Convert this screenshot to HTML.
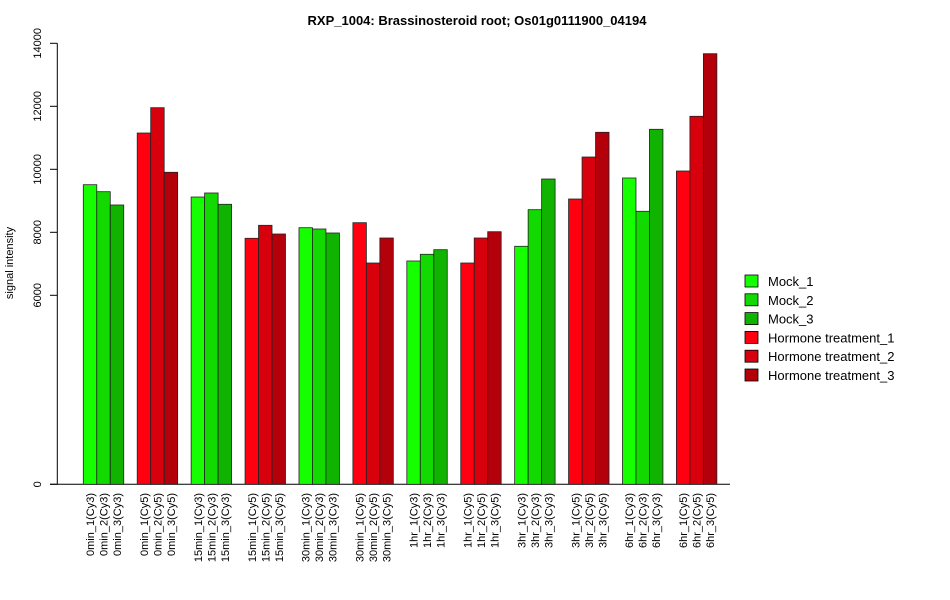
<!DOCTYPE html>
<html><head><meta charset="utf-8"><style>body{margin:0;background:#fff}svg{display:block;font-family:"Liberation Sans",Arial,sans-serif}</style></head>
<body>
<svg id="c" width="950" height="600"></svg>
<script>
const categories=["0min_1(Cy3)","0min_2(Cy3)","0min_3(Cy3)","0min_1(Cy5)","0min_2(Cy5)","0min_3(Cy5)","15min_1(Cy3)","15min_2(Cy3)","15min_3(Cy3)","15min_1(Cy5)","15min_2(Cy5)","15min_3(Cy5)","30min_1(Cy3)","30min_2(Cy3)","30min_3(Cy3)","30min_1(Cy5)","30min_2(Cy5)","30min_3(Cy5)","1hr_1(Cy3)","1hr_2(Cy3)","1hr_3(Cy3)","1hr_1(Cy5)","1hr_2(Cy5)","1hr_3(Cy5)","3hr_1(Cy3)","3hr_2(Cy3)","3hr_3(Cy3)","3hr_1(Cy5)","3hr_2(Cy5)","3hr_3(Cy5)","6hr_1(Cy3)","6hr_2(Cy3)","6hr_3(Cy3)","6hr_1(Cy5)","6hr_2(Cy5)","6hr_3(Cy5)"];
const values=[9511,9289,8867,11152,11956,9905,9120,9248,8889,7810,8222,7946,8146,8105,7978,8305,7025,7819,7089,7302,7448,7025,7819,8019,7556,8718,9692,9057,10390,11175,9724,8667,11270,9946,11683,13670];
const yTicks=[0,6000,8000,10000,12000,14000];
const legendLabels=["Mock_1","Mock_2","Mock_3","Hormone treatment_1","Hormone treatment_2","Hormone treatment_3"];
const colors=["#15ff00","#12d900","#0fb300","#ff0010","#d9000e","#b3000b"];

const svg=document.getElementById('c');
const NS='http://www.w3.org/2000/svg';
function mk(t,a,p){const e=document.createElementNS(NS,t);for(const k in a)e.setAttribute(k,a[k]);(p||svg).appendChild(e);return e;}
const y0=484.3,yMax=14000,yPix=441;
function Y(v){return y0-v/yMax*yPix;}
const bw=13.48,x0=83.3;
function X(i){const g=Math.floor(i/3);return x0+(i+g)*bw;}

const title=mk('text',{x:477,y:25,'text-anchor':'middle','font-size':13,'font-weight':'bold'});
title.textContent="RXP_1004: Brassinosteroid root; Os01g0111900_04194";



const yl=mk('text',{transform:'translate(13,263) rotate(-90)','text-anchor':'middle','font-size':11});
yl.textContent="signal intensity";



const ax=mk('line',{x1:57.3,x2:57.3,y1:Y(0),y2:Y(14000),stroke:'#000'});


yTicks.forEach(v=>{
  mk('line',{x1:50,x2:57.3,y1:Y(v),y2:Y(v),stroke:'#000'});
  const t=mk('text',{transform:`translate(41,${Y(v)}) rotate(-90)`,'text-anchor':'middle','font-size':11});
  t.textContent=v;
  
  
});
const xa=mk('line',{x1:50,x2:730,y1:Y(0),y2:Y(0),stroke:'#000'});



values.forEach((v,i)=>{
  const x=X(i);
  const r=mk('rect',{x:x,y:Y(v),width:bw,height:Y(0)-Y(v),fill:colors[i%6],stroke:'#222','stroke-width':0.8});
  
  
  const t=mk('text',{transform:`translate(${x+bw/2+4},493) rotate(-90)`,'text-anchor':'end','font-size':11});
  t.textContent=categories[i];
  
  
});

legendLabels.forEach((l,i)=>{
  const yy=281+i*18.8;
  const g=mk('g',{});
  
  
  mk('rect',{x:745,y:yy-6,width:13,height:12,fill:colors[i],stroke:'#000','stroke-width':0.8},g);
  const t=mk('text',{x:768,y:yy+5,'font-size':13},g);
  t.textContent=l;
});
</script>
</body></html>
